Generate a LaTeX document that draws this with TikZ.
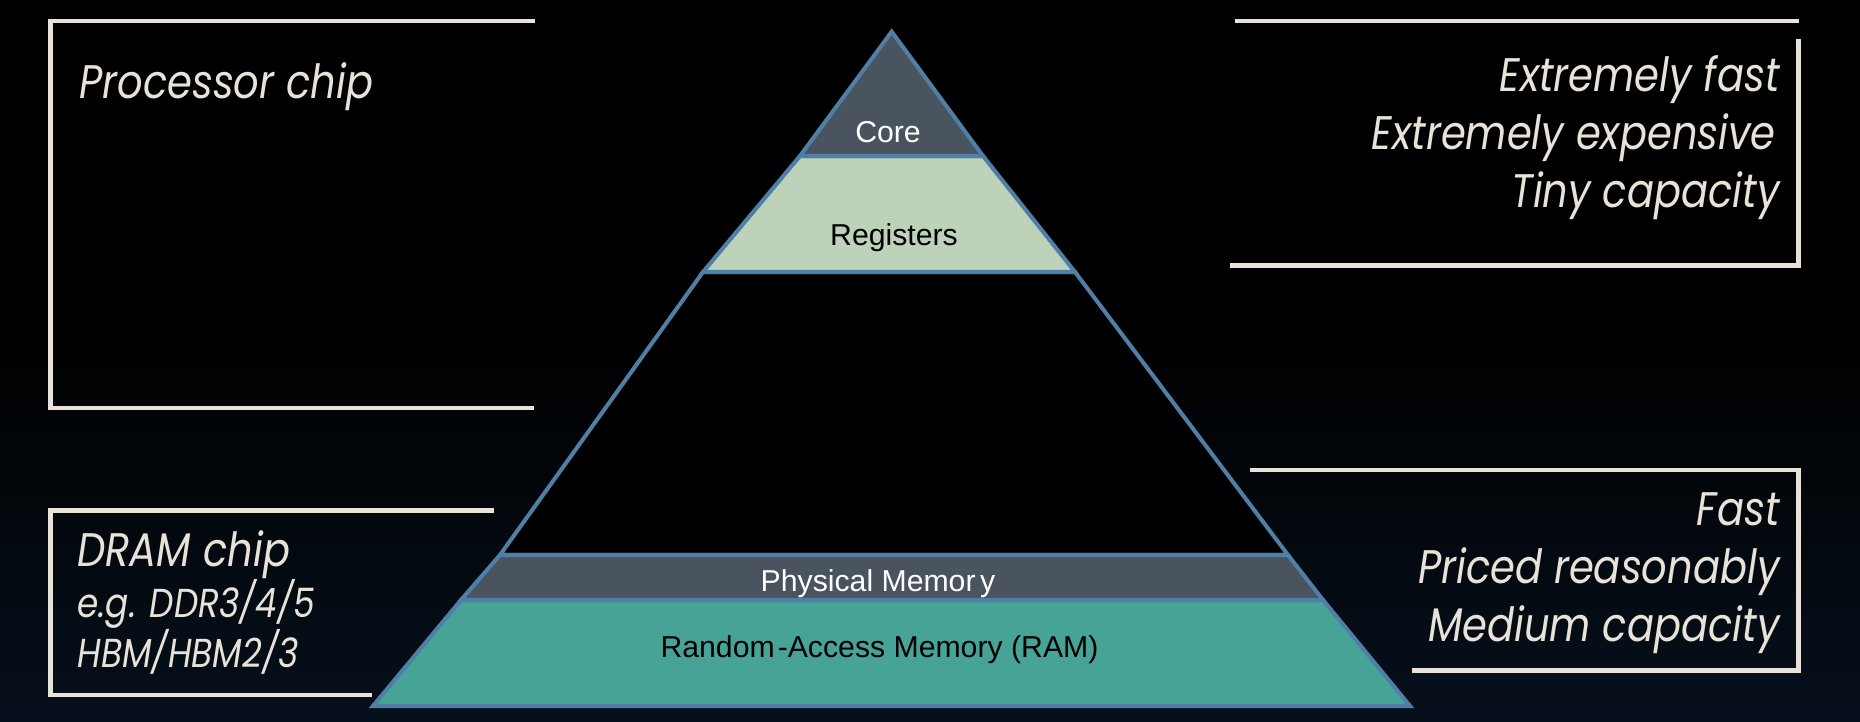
\documentclass[tikz,border=0pt]{standalone}
\usepackage{fontspec}
\setmainfont{Liberation Sans}
\newfontfamily\gfont[FakeStretch=0.85]{Poppins}
\definecolor{cream}{HTML}{E8E2D8}
\definecolor{slate}{HTML}{4A545E}
\definecolor{regfill}{HTML}{BED2BA}
\definecolor{ramfill}{HTML}{48A397}
\definecolor{edgeblue}{HTML}{4F7FA6}
\definecolor{navy}{HTML}{06101C}
\tikzset{
  layer/.style={draw=edgeblue, line width=2.3pt, line join=miter},
  bracket/.style={draw=cream, line width=2.6pt},
  bigtxt/.style={text=cream, inner sep=0pt, font=\gfont\itshape\fontsize{26.8}{30}\selectfont},
  smalltxt/.style={text=cream, inner sep=0pt, font=\gfont\itshape\fontsize{23}{26}\selectfont},
  pyrtxt/.style={inner sep=0pt, anchor=base, font=\fontsize{17.2}{20}\selectfont}
}
\begin{document}
\begin{tikzpicture}[x=0.02cm, y=-0.02cm]
\useasboundingbox (0,0) rectangle (1860,722);
% background
\fill[black] (0,0) rectangle (1860,722);
\shade[top color=black, bottom color=navy] (0,330) rectangle (1860,722);

% pyramid corner coordinates
\coordinate (apex) at (891.7,31.7);
\coordinate (cl) at (800,156);   \coordinate (cr) at (983,156);
\coordinate (rl) at (703,272);   \coordinate (rr) at (1075,272);
\coordinate (ml) at (500,555);   \coordinate (mr) at (1288,555);
\coordinate (pl) at (461,600);   \coordinate (pr) at (1323,600);
\coordinate (bl) at (373,706);   \coordinate (br) at (1410,706);

% layers
\path[layer, fill=black] (rl) -- (rr) -- (mr) -- (ml) -- cycle;
\path[layer, fill=ramfill] (pl) -- (pr) -- (br) -- (bl) -- cycle;
\path[layer, fill=slate] (ml) -- (mr) -- (pr) -- (pl) -- cycle;
\path[layer, fill=regfill] (cl) -- (cr) -- (rr) -- (rl) -- cycle;
\path[layer, fill=slate] (apex) -- (cr) -- (cl) -- cycle;

% pyramid labels
\node[pyrtxt, text=white] (core) at (888,142.7) {Core};
\node[pyrtxt, text=black] (regs) at (894,246) {Registers};
\node[pyrtxt, text=white] (phys) at (878,591.7) {Physical Memor\hspace{0.15em}y};
\node[pyrtxt, text=black] (ram) at (879.5,658) {Random\hspace{0.1em}-Access Memory (RAM)};

% top-left bracket box
\draw[bracket] (535,21) -- (50.6,21) -- (50.6,408) -- (534,408);
\node[bigtxt, anchor=base west] (proc) at (79,99) {Processor chip};

% top-right bracket box
\draw[bracket] (1234.5,21) -- (1798.5,21);
\draw[bracket] (1798.5,39) -- (1798.5,265.7) -- (1229.5,265.7);
\node[bigtxt, anchor=base east] (tr1) at (1780,92) {Extremely fast};
\node[bigtxt, anchor=base east] (tr2) at (1776,150) {Extremely expensive};
\node[bigtxt, anchor=base east] (tr3) at (1780,208) {Tiny capacity};

% bottom-left bracket box
\draw[bracket] (494,510.7) -- (50.6,510.7) -- (50.6,695) -- (371.5,695);
\node[bigtxt, anchor=base west] (bl1) at (77,567) {DRAM chip};
\node[smalltxt, anchor=base west] (bl2) at (77,618) {e.g. DDR3/4/5};
\node[smalltxt, anchor=base west] (bl3) at (77,667) {HBM/HBM2/3};

% bottom-right bracket box
\draw[bracket] (1249.7,470) -- (1798.5,470) -- (1798.5,670.7) -- (1411.7,670.7);
\node[bigtxt, anchor=base east] (br1) at (1780,526) {Fast};
\node[bigtxt, anchor=base east] (br2) at (1780,584) {Priced reasonably};
\node[bigtxt, anchor=base east] (br3) at (1780,642) {Medium capacity};
\end{tikzpicture}
\end{document}
